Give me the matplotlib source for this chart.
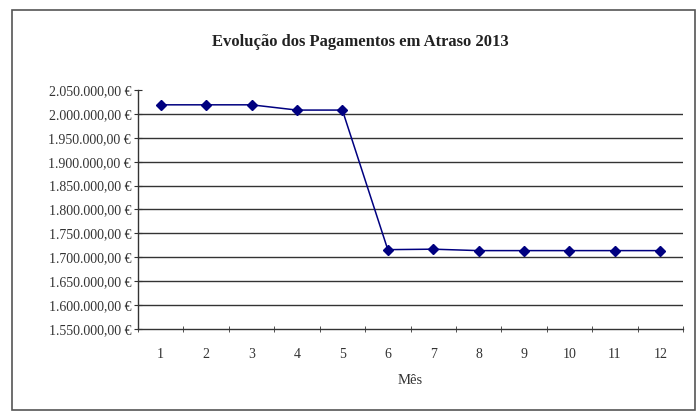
import matplotlib
import numpy as np

matplotlib.use("Agg")
import matplotlib.pyplot as plt
from matplotlib.patches import Rectangle
from matplotlib.ticker import FixedLocator, FuncFormatter

# data
meses = list(range(1, 13))
valores = [2019000, 2019000, 2019000, 2008000, 2008000, 1716000,
           1717000, 1714000, 1714000, 1714000, 1714000, 1714000]
titulo = "Evolução dos Pagamentos em Atraso 2013"
yticks = np.arange(1550000, 2050001, 50000)

plt.rcParams["font.family"] = ["Liberation Serif", "DejaVu Serif"]

W, H = 696, 412
fig = plt.figure(figsize=(W / 100, H / 100), dpi=100)
ax = fig.add_axes([138 / W, 1 - 329 / H, (683 - 138) / W, (329 - 90) / H])

# outer chart border
fig.patches.append(Rectangle((12 / W, 1 - 410 / H), (695 - 12) / W, (410 - 10) / H,
                             transform=fig.transFigure, fill=False,
                             edgecolor="#555555", lw=1.2))

for v in yticks[1:-1]:
    ax.axhline(v, color="#333333", lw=1.0, zorder=1)

ax.plot(meses, valores, "-", color="#000080", lw=1.1, marker="D", ms=5.5,
        mfc="#000080", mec="#000080", zorder=3)

ax.set_xlim(0.5, 12.5); ax.set_ylim(1550000, 2050000)
for s in ["top", "right"]:
    ax.spines[s].set_visible(False)
for s in ["left", "bottom"]:
    ax.spines[s].set_color("#333333"); ax.spines[s].set_linewidth(1.0)

ax.set_yticks(yticks)
ax.yaxis.set_major_formatter(FuncFormatter(
    lambda v, p: f"{v:,.2f}".replace(",", "X").replace(".", ",").replace("X", ".") + " €"))
ax.tick_params(axis="y", direction="inout", length=6, labelsize=10, colors="#333333", pad=2)

ax.set_xticks(meses)
ax.xaxis.set_minor_locator(FixedLocator(np.arange(0.5, 13, 1)))
ax.tick_params(axis="x", which="major", length=0, labelsize=10, pad=14, colors="#333333")
ax.tick_params(axis="x", which="minor", direction="inout", length=5, color="#333333")

ax.set_xlabel("Mês", fontsize=10.5, labelpad=9, color="#333333")
fig.text(360 / W, 1 - 42 / H, titulo, ha="center", va="center",
         fontsize=12, fontweight="bold", color="#222222")

fig.savefig("out.png", dpi=100)
